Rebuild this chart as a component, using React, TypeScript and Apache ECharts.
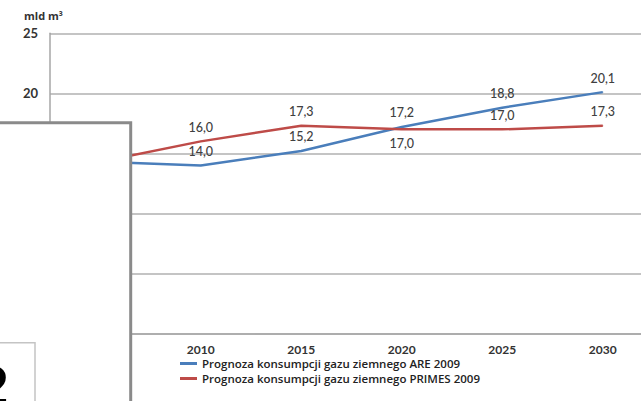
import React, { useEffect, useRef } from "react";
import * as echarts from "echarts";

const categories = ["2005", "2010", "2015", "2020", "2025", "2030"];
const areValues = [14.3, 14.0, 15.2, 17.2, 18.8, 20.1];
const primesValues = [14.3, 16.0, 17.3, 17.0, 17.0, 17.3];
const areName = "Prognoza konsumpcji gazu ziemnego ARE 2009";
const primesName = "Prognoza konsumpcji gazu ziemnego PRIMES 2009";
const yUnit = "mld m³";
const primesBelow = [false, false, false, true, false, false];

const FONT = "Lato, 'Open Sans', sans-serif";
const fmt = (v: number) => v.toFixed(1).replace(".", ",");

export default function App() {
  const ref = useRef<HTMLDivElement>(null);
  useEffect(() => {
    if (!ref.current) return;
    const chart = echarts.init(ref.current, null, { renderer: "svg" });
    const mk = (vals: number[], below: boolean[] | null) =>
      vals.map((v, i) => ({
        value: v,
        label: {
          show: i > 0,
          position: below && below[i] ? "bottom" : "top",
        },
      }));
    chart.setOption({
      animation: false,
      textStyle: { fontFamily: FONT },
      grid: { left: 50, right: 27, top: 33.3, bottom: 67.5 },
      legend: {
        orient: "vertical",
        left: 180,
        top: 357,
        padding: 0,
        itemGap: 2,
        itemWidth: 17,
        itemHeight: 3,
        textStyle: {
          fontFamily: "'Open Sans', sans-serif",
          fontSize: 11.5,
          fontWeight: 600,
          color: "#222",
          lineHeight: 13,
        },
        data: [
          { name: areName, icon: "rect" },
          { name: primesName, icon: "rect" },
        ],
      },
      xAxis: {
        type: "category",
        data: categories,
        boundaryGap: true,
        axisLine: { show: true, lineStyle: { color: "#a6a6a6", width: 1.5 } },
        axisTick: { show: false },
        axisLabel: {
          fontFamily: FONT,
          fontSize: 12,
          lineHeight: 12,
          fontWeight: "bold",
          color: "#333",
          margin: 10,
        },
      },
      yAxis: {
        type: "value",
        min: 0,
        max: 25,
        interval: 5,
        axisLine: { show: true, lineStyle: { color: "#a6a6a6", width: 1.5 } },
        axisTick: { show: false },
        splitLine: { lineStyle: { color: "#b0b0b0", width: 1.5 } },
        axisLabel: {
          fontFamily: FONT,
          fontSize: 13,
          fontWeight: "bold",
          color: "#333",
          margin: 12,
        },
      },
      series: [
        {
          name: areName,
          type: "line",
          data: mk(areValues, null),
          symbol: "circle",
          symbolSize: 1,
          showSymbol: true,
          lineStyle: { color: "#4a7ebb", width: 2.5 },
          itemStyle: { color: "#4a7ebb" },
          label: {
            show: true,
            distance: 7,
            formatter: (p: any) => fmt(p.value),
            fontFamily: FONT,
            fontSize: 12.5,
            fontWeight: 500,
            color: "#404040",
          },
        },
        {
          name: primesName,
          type: "line",
          data: mk(primesValues, primesBelow),
          symbol: "circle",
          symbolSize: 1,
          showSymbol: true,
          lineStyle: { color: "#be4b48", width: 2.5 },
          itemStyle: { color: "#be4b48" },
          label: {
            show: true,
            distance: 7,
            formatter: (p: any) => fmt(p.value),
            fontFamily: FONT,
            fontSize: 12.5,
            fontWeight: 500,
            color: "#404040",
          },
        },
      ],
      graphic: [
        {
          type: "text",
          left: 24,
          top: 10,
          z: 100,
          style: {
            text: yUnit,
            fontFamily: "'Open Sans', sans-serif",
            fontSize: 11,
            fontWeight: "bold",
            fill: "#333",
          },
        },
        {
          type: "rect",
          z: 100,
          shape: { x: -5, y: 122.7, width: 135.7, height: 300 },
          style: { fill: "#fff", stroke: "#8a8a8a", lineWidth: 3 },
        },
        {
          type: "rect",
          z: 101,
          shape: { x: -5, y: 342.7, width: 40, height: 100 },
          style: { fill: "#fff", stroke: "#c4c4c4", lineWidth: 1.5 },
        },
        {
          type: "text",
          z: 102,
          x: 11,
          y: 358,
          style: {
            text: "2",
            fontFamily: "'DejaVu Sans', sans-serif",
            fontSize: 56,
            fontWeight: "bold",
            fill: "#000",
            align: "right",
            verticalAlign: "top",
          },
        },
      ],
    });
    return () => chart.dispose();
  }, []);
  return (
    <div
      style={{
        position: "absolute",
        left: 0,
        top: 0,
        width: 641,
        height: 401,
        overflow: "hidden",
        background: "#fff",
      }}
    >
      <div ref={ref} style={{ width: 680, height: 401 }} />
    </div>
  );
}
